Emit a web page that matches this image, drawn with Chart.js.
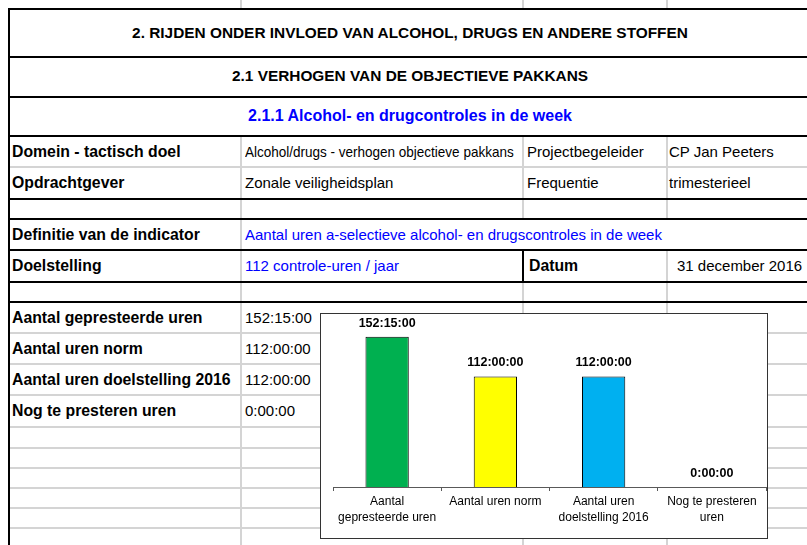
<!DOCTYPE html>
<html>
<head>
<meta charset="utf-8">
<script src="https://cdn.jsdelivr.net/npm/chart.js@4.4.1/dist/chart.umd.min.js"></script>
<style>
html,body{margin:0;padding:0;background:#fff;}
body{width:807px;height:545px;overflow:hidden;position:relative;font-family:"Liberation Sans",Arial,sans-serif;}
.ln{position:absolute;}
.g{background:#d4d4d4;}
.k{background:#000;}
.t{position:absolute;white-space:nowrap;font-size:15px;line-height:20px;height:20px;color:#000;}
.b{font-weight:bold;font-size:15.8px;}
.h1{font-size:15.4px;}
.h3{font-size:16px;}
.blue{color:#0000ff;}
.c{transform:translateX(-50%);}
.n{transform:scaleX(0.9);transform-origin:left center;}
#box{position:absolute;left:320px;top:313px;width:446px;height:224px;border:1px solid #333;background:#fff;}
#box canvas{display:block;}
</style>
</head>
<body>
<div id="box"><canvas id="chart" width="446" height="224"></canvas></div>
<script>
// ---- data ----
const categories = [["Aantal", "gepresteerde uren"], ["Aantal uren norm"], ["Aantal uren", "doelstelling 2016"], ["Nog te presteren", "uren"]];
const rowLabels = ["Aantal gepresteerde uren", "Aantal uren norm", "Aantal uren doelstelling 2016", "Nog te presteren uren"];
const hoursValues = [152.25, 112, 112, 0];
const barColors = ["#00b050", "#ffff00", "#00b0f0", "#7f7f7f"];

function fmtHours(h) {
  const totalSec = Math.round(h * 3600);
  const hh = Math.floor(totalSec / 3600);
  const mm = Math.floor((totalSec % 3600) / 60);
  const ss = totalSec % 60;
  return hh + ":" + String(mm).padStart(2, "0") + ":" + String(ss).padStart(2, "0");
}

// ---- sheet grid ----
const body = document.body;
function line(cls, x, y, w, h) {
  const d = document.createElement("div");
  d.className = "ln " + cls;
  d.style.left = x + "px"; d.style.top = y + "px";
  d.style.width = w + "px"; d.style.height = h + "px";
  body.insertBefore(d, document.getElementById("box"));
}
function text(str, x, yc, cls) {
  const d = document.createElement("div");
  d.className = "t " + (cls || "");
  d.textContent = str;
  d.style.left = x + "px";
  d.style.top = (yc - 10) + "px";
  body.insertBefore(d, document.getElementById("box"));
}
// grey grid lines
[240, 522, 666].forEach(x => line("g", x, 0, 2, 9));
line("g", 240, 136, 2, 409);
line("g", 522, 136, 2, 83);
line("g", 522, 282, 2, 263);
line("g", 666, 136, 2, 83);
line("g", 666, 250, 2, 295);
line("g", 8, 166, 799, 2);
[332, 363, 394, 426, 447, 467, 487, 507, 527].forEach(y => line("g", 8, y, 799, 2));
// black borders
[8, 56, 96, 135, 198, 218, 249, 281, 301].forEach(y => line("k", 8, y, 799, 2));
line("k", 8, 8, 2, 537);
line("k", 522, 250, 2, 32);

// headers
text("2. RIJDEN ONDER INVLOED VAN ALCOHOL, DRUGS EN ANDERE STOFFEN", 410, 33, "b h1 c");
text("2.1 VERHOGEN VAN DE OBJECTIEVE PAKKANS", 410, 76, "b h1 c");
text("2.1.1 Alcohol- en drugcontroles in de week", 410, 116, "b h3 c blue");
// info rows
text("Domein - tactisch doel", 12, 152, "b");
text("Alcohol/drugs - verhogen objectieve pakkans", 245, 152, "n");
text("Projectbegeleider", 527, 152);
text("CP Jan Peeters", 669, 152);
text("Opdrachtgever", 12, 183, "b");
text("Zonale veiligheidsplan", 245, 183);
text("Frequentie", 527, 183);
text("trimesterieel", 669, 183);
text("Definitie van de indicator", 12, 235, "b");
text("Aantal uren a-selectieve alcohol- en drugscontroles in de week", 245, 235, "blue");
text("Doelstelling", 12, 266, "b");
text("112 controle-uren / jaar", 245, 266, "blue");
text("Datum", 529, 266, "b");
text("31 december 2016", 677, 266);
// value rows
const rowY = [318, 349, 380, 411];
rowLabels.forEach((lab, i) => {
  text(lab, 12, rowY[i], "b");
  text(fmtHours(hoursValues[i]), 245, rowY[i]);
});

// ---- chart ----
const valueLabels = {
  id: "valueLabels",
  afterDatasetsDraw(chart) {
    const ctx = chart.ctx;
    const meta = chart.getDatasetMeta(0);
    ctx.save();
    ctx.font = "bold 12.5px 'Liberation Sans', Arial, sans-serif";
    ctx.fillStyle = "#000";
    ctx.textAlign = "center";
    ctx.textBaseline = "middle";
    meta.data.forEach((bar, i) => {
      ctx.fillText(fmtHours(chart.data.datasets[0].data[i]), bar.x, bar.y - 13.5);
    });
    ctx.restore();
  }
};

new Chart(document.getElementById("chart"), {
  type: "bar",
  data: {
    labels: categories,
    datasets: [{
      data: hoursValues,
      backgroundColor: barColors,
      borderColor: "#000",
      borderWidth: 1,
      borderSkipped: "bottom",
      categoryPercentage: 1,
      barPercentage: 0.4
    }]
  },
  options: {
    responsive: false,
    animation: false,
    devicePixelRatio: 1,
    layout: { padding: { left: 12, right: 1, top: 15, bottom: 0 } },
    plugins: { legend: { display: false }, tooltip: { enabled: false } },
    scales: {
      y: { display: false, min: 0, max: 160 },
      x: {
        grid: { offset: true, drawOnChartArea: false, drawTicks: true, tickLength: 4, color: "#595959", lineWidth: 1 },
        border: { display: true, color: "#595959", width: 1 },
        ticks: {
          color: "#000",
          padding: 3,
          maxRotation: 0,
          autoSkip: false,
          font: { family: "'Liberation Sans', Arial, sans-serif", size: 12, lineHeight: 1.3 }
        },
        afterFit(scale) { scale.height = 51; }
      }
    }
  },
  plugins: [valueLabels]
});
</script>
</body>
</html>
